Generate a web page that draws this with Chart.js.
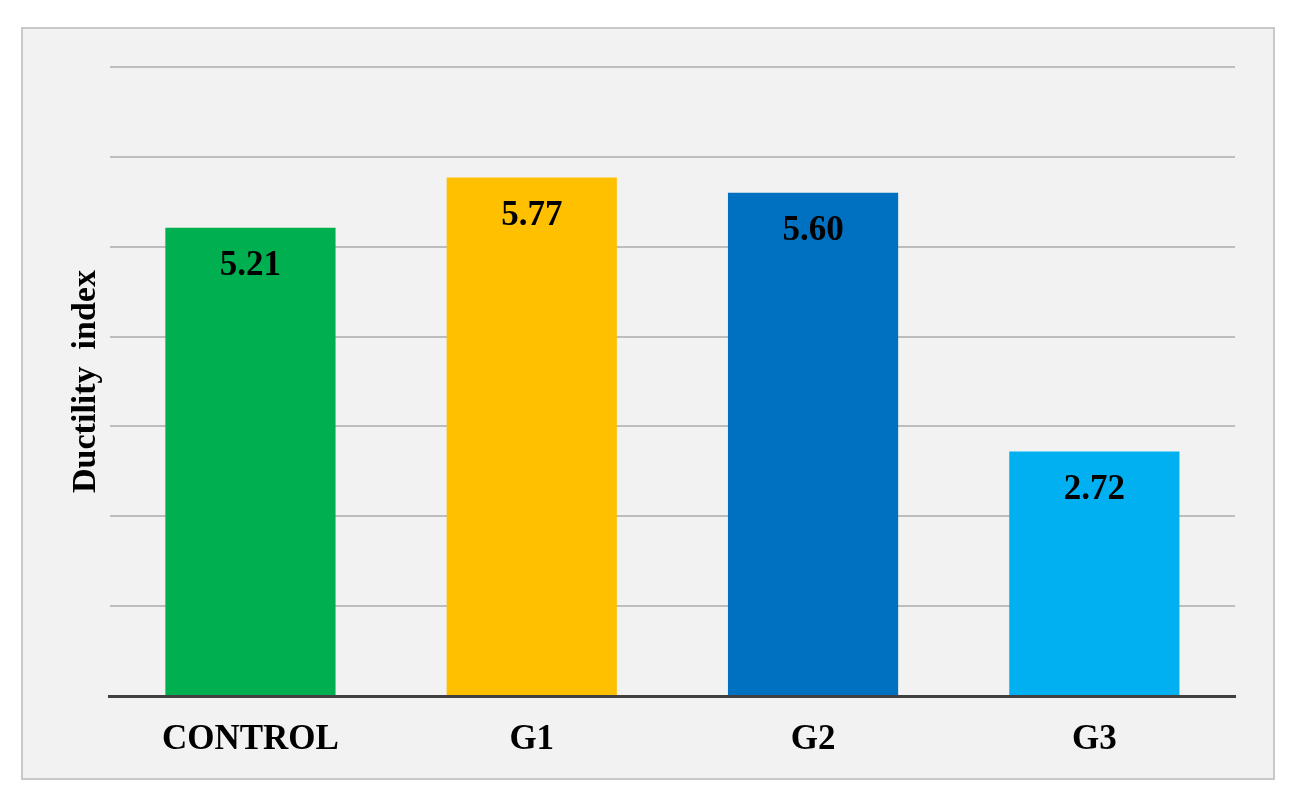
<!DOCTYPE html>
<html>
<head>
<meta charset="utf-8">
<script src="https://cdn.jsdelivr.net/npm/chart.js@4.4.0/dist/chart.umd.min.js"></script>
<style>
  html, body { margin: 0; padding: 0; background: #ffffff; }
  #caja {
    position: absolute; left: 21px; top: 27px;
    width: 1250px; height: 749px;
    border: 2px solid #c9c9c9;
    background: #f2f2f2;
  }
  #grafico { display: block; }
</style>
</head>
<body>
<div id="caja"><canvas id="grafico" width="1250" height="749"></canvas></div>
<script>
// datos del grafico
const categorias = ["CONTROL", "G1", "G2", "G3"];
const ductilidad = [5.21, 5.77, 5.60, 2.72];
const etiquetas = ["5.21", "5.77", "5.60", "2.72"];
const colores = ["#00b050", "#ffc000", "#0070c0", "#00b0f0"];

const fuente = "'Liberation Serif', 'Times New Roman', serif";

// escribe el valor dentro de cada barra, cerca del borde superior
const etiquetasBarras = {
    id: "etiquetasBarras",
    afterDatasetsDraw(chart) {
        const ctx = chart.ctx;
        const meta = chart.getDatasetMeta(0);
        ctx.save();
        ctx.font = "bold 35px " + fuente;
        ctx.fillStyle = "#000000";
        ctx.textAlign = "center";
        ctx.textBaseline = "middle";
        meta.data.forEach((barra, i) => {
            ctx.fillText(etiquetas[i], barra.x, barra.y + 38);
        });
        ctx.restore();
    }
};

const migrafico = document.getElementById("grafico").getContext("2d");
const generaGrafico = new Chart(migrafico, {
    type: "bar",
    data: {
        labels: categorias,
        datasets: [{
            label: "Ductility index",
            data: ductilidad,
            backgroundColor: colores,
            borderWidth: 0,
            barPercentage: 0.605,
            categoryPercentage: 1
        }]
    },
    options: {
        responsive: false,
        animation: false,
        layout: { padding: { left: 38, top: 38, right: 38, bottom: -6 } },
        plugins: {
            legend: { display: false },
            tooltip: { enabled: false }
        },
        scales: {
            x: {
                grid: { display: false, drawTicks: false },
                border: { display: true, color: "#404040", width: 3 },
                ticks: {
                    color: "#000000",
                    padding: 23,
                    font: { family: fuente, size: 35, weight: "bold" }
                }
            },
            y: {
                min: 0,
                max: 7,
                ticks: { display: false, stepSize: 1 },
                grid: { color: "#bdbdbd", lineWidth: 2, drawTicks: false },
                border: { display: false },
                title: {
                    display: true,
                    text: "Ductility  index",
                    color: "#000000",
                    padding: { top: 5, bottom: 3 },
                    font: { family: fuente, size: 34, weight: "bold" }
                }
            }
        }
    },
    plugins: [etiquetasBarras]
});
</script>
</body>
</html>
